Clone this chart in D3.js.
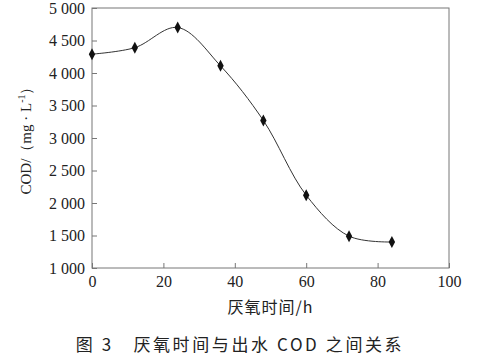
<!DOCTYPE html>
<html>
<head>
<meta charset="utf-8">
<script src="https://cdn.jsdelivr.net/npm/d3@7"></script>
<style>
  body { margin: 0; background: #fff; }
  svg { display: block; }
  .axis text { font-family: "Liberation Serif", "Times New Roman", serif; font-size: 16px; fill: #222; }
  .axis path, .axis line { stroke: #777; }
</style>
</head>
<body>
<svg width="490" height="361"></svg>
<script>
// anaerobic time (h) and effluent COD (mg/L)
var hours = [0, 12, 24, 36, 48, 60, 72, 84];
var cod = [4290, 4390, 4700, 4110, 3270, 2120, 1490, 1400];
var xTicks = [0, 20, 40, 60, 80, 100];
var yTicks = [1000, 1500, 2000, 2500, 3000, 3500, 4000, 4500, 5000];

var svg = d3.select("svg");
var plotL = 92, plotR = 449, plotT = 8, plotB = 268;

var xScale = d3.scaleLinear().domain([0, 100]).range([plotL, plotR]);
var yScale = d3.scaleLinear().domain([1000, 5000]).range([plotB, plotT]);

// thousands with a space: 5 000
var fmt = function(d) {
	var s = String(d);
	return s.length > 3 ? s.slice(0, s.length - 3) + " " + s.slice(-3) : s;
};

// frame
svg.append("rect")
	.attr("x", plotL).attr("y", plotT)
	.attr("width", plotR - plotL).attr("height", plotB - plotT)
	.attr("fill", "none").attr("stroke", "#777").attr("stroke-width", 1);

var xAxis = d3.axisBottom(xScale).tickValues(xTicks).tickSizeInner(-5).tickSizeOuter(0).tickPadding(8);
var yAxis = d3.axisLeft(yScale).tickValues(yTicks).tickFormat(fmt).tickSizeInner(-5).tickSizeOuter(0).tickPadding(7);

svg.append("g").attr("class", "axis")
	.attr("transform", "translate(0," + plotB + ")")
	.call(xAxis);
svg.append("g").attr("class", "axis")
	.attr("transform", "translate(" + plotL + ",0)")
	.call(yAxis);
svg.selectAll(".axis .domain").remove();

var pts = hours.map(function(h, i) { return [h, cod[i]]; });

var line = d3.line()
	.x(function(d) { return xScale(d[0]); })
	.y(function(d) { return yScale(d[1]); })
	.curve(d3.curveCatmullRom.alpha(0.5));

svg.append("path")
	.datum(pts)
	.attr("d", line)
	.attr("fill", "none")
	.attr("stroke", "#333")
	.attr("stroke-width", 1);

svg.selectAll(".pt")
	.data(pts)
	.enter()
	.append("path")
	.attr("class", "pt")
	.attr("transform", function(d) { return "translate(" + xScale(d[0]) + "," + yScale(d[1]) + ")"; })
	.attr("d", "M0,-6L3.2,0L0,6L-3.2,0Z")
	.attr("fill", "#111");

// axis titles
svg.append("text")
	.attr("x", (plotL + plotR) / 2).attr("y", 313)
	.attr("text-anchor", "middle")
	.style("font-family", "'Noto Sans CJK SC', sans-serif")
	.style("font-size", "16px")
	.style("letter-spacing", "1px")
	.attr("fill", "#222")
	.text("厌氧时间/h");

var yt = svg.append("text")
	.attr("transform", "translate(31,137) rotate(-90)")
	.attr("text-anchor", "middle")
	.style("font-family", "'Liberation Serif', serif")
	.style("font-size", "15px")
	.attr("fill", "#222");
yt.append("tspan").text("COD/（mg · L");
yt.append("tspan").attr("dy", -6).style("font-size", "10px").text("-1");
yt.append("tspan").attr("dy", 6).text("）");

// caption
svg.append("text")
	.attr("x", 240).attr("y", 351)
	.attr("text-anchor", "middle")
	.style("font-family", "'Noto Sans CJK SC', sans-serif")
	.style("font-size", "17px")
	.style("letter-spacing", "2.6px")
	.attr("fill", "#222")
	.text("图 3　厌氧时间与出水 COD 之间关系");
</script>
</body>
</html>
